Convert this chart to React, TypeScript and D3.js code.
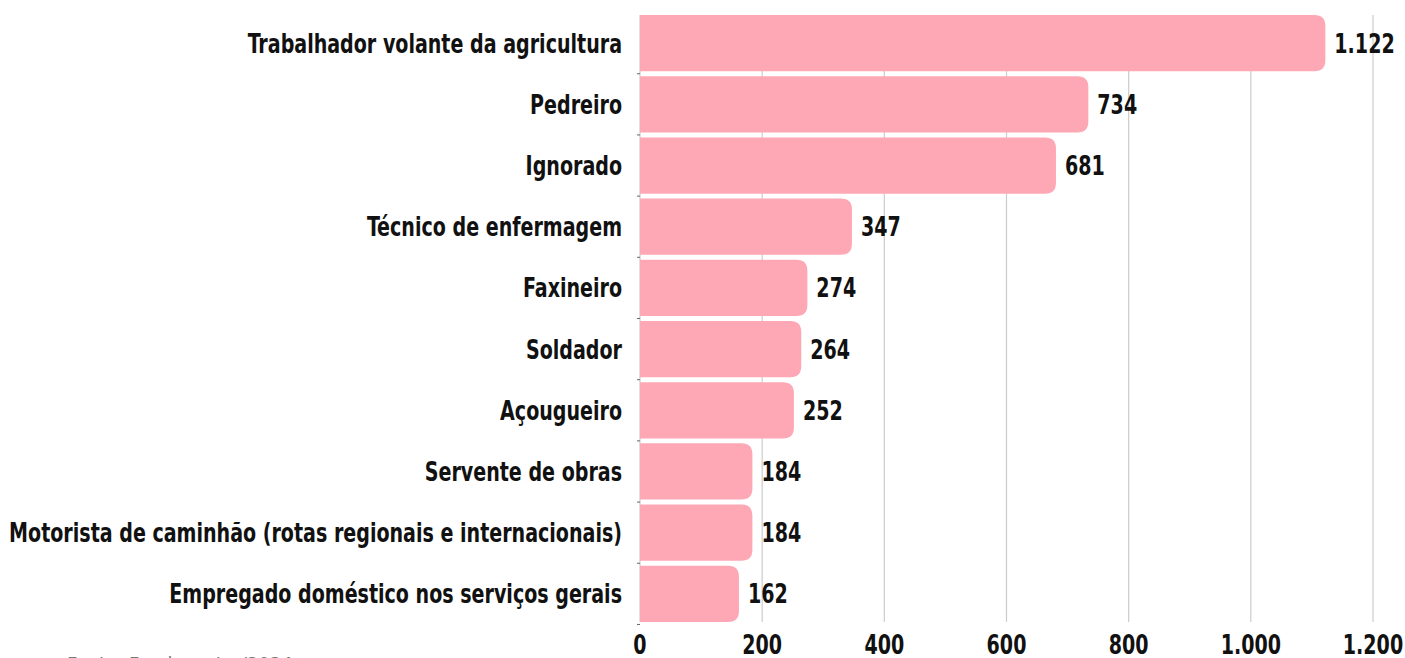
import React from 'react';
import * as d3 from 'd3';

const categories = [
  'Trabalhador volante da agricultura',
  'Pedreiro',
  'Ignorado',
  'Técnico de enfermagem',
  'Faxineiro',
  'Soldador',
  'Açougueiro',
  'Servente de obras',
  'Motorista de caminhão (rotas regionais e internacionais)',
  'Empregado doméstico nos serviços gerais',
];
const values = [1122, 734, 681, 347, 274, 264, 252, 184, 184, 162];
const xTicks = [0, 200, 400, 600, 800, 1000, 1200];

const W = 1405;
const H = 658;
const FONT = '"DejaVu Sans Condensed", "DejaVu Sans", sans-serif';
const SX = 0.8; // squeeze to mimic the condensed face

// pt-BR thousands separator
const fmt = (v: number) => d3.format(',')(v).replace(/,/g, '.');

// bar with rounded right end only
function barPath(x0: number, x1: number, y0: number, h: number, r: number) {
  const rr = Math.min(r, (x1 - x0) / 2, h / 2);
  return `M${x0},${y0}H${x1 - rr}Q${x1},${y0} ${x1},${y0 + rr}V${y0 + h - rr}Q${x1},${y0 + h} ${x1 - rr},${y0 + h}H${x0}Z`;
}

function Label({ x, y, anchor = 'start', children }: { x: number; y: number; anchor?: string; children: React.ReactNode }) {
  return (
    <text transform={`translate(${x},${y}) scale(${SX},1)`} textAnchor={anchor}
      fontFamily={FONT} fontWeight={700} fontSize={26.5} fill="#111">{children}</text>
  );
}

export default function App() {
  const x = d3.scaleLinear().domain([0, 1200]).range([640, 1373]);
  const y = d3.scaleBand<string>().domain(categories).range([15, 622]).paddingInner(0.08).paddingOuter(0.0);
  const step = y.step();
  const bw = y.bandwidth();

  return (
    <div style={{ position: 'fixed', left: 0, top: 0 }}>
      <svg width={W} height={H} style={{ display: 'block', background: '#fff' }}>
        {/* grid */}
        {xTicks.map(t => (
          <line key={t} x1={x(t)} x2={x(t)} y1={15} y2={622} stroke="#cccccc" strokeWidth={1.2} />
        ))}
        {/* y ticks */}
        {categories.map((c, i) => {
          const ty = (y(c) || 0) + bw + (step - bw) / 2;
          return <line key={'yt' + i} x1={637} x2={640} y1={ty} y2={ty} stroke="#666" strokeWidth={1} />;
        })}
        {/* bars */}
        {categories.map((c, i) => (
          <path key={'b' + i} d={barPath(x(0), x(values[i]), y(c) || 0, bw, 11)} fill="#ffa8b5" />
        ))}
        {/* value labels */}
        {categories.map((c, i) => (
          <Label key={'v' + i} x={x(values[i]) + 9} y={(y(c) || 0) + bw / 2 + 9.5}>{fmt(values[i])}</Label>
        ))}
        {/* category labels */}
        {categories.map((c, i) => (
          <Label key={'c' + i} x={622} y={(y(c) || 0) + bw / 2 + 9.5} anchor="end">{c}</Label>
        ))}
        {/* x tick labels */}
        {xTicks.map(t => (
          <Label key={'xt' + t} x={x(t)} y={654} anchor="middle">{fmt(t)}</Label>
        ))}
        {/* source, clipped by the frame */}
        <text x={67} y={671} fontFamily={FONT} fontSize={20} fill="#777">Fonte: Fundacentro/2024</text>
      </svg>
    </div>
  );
}
